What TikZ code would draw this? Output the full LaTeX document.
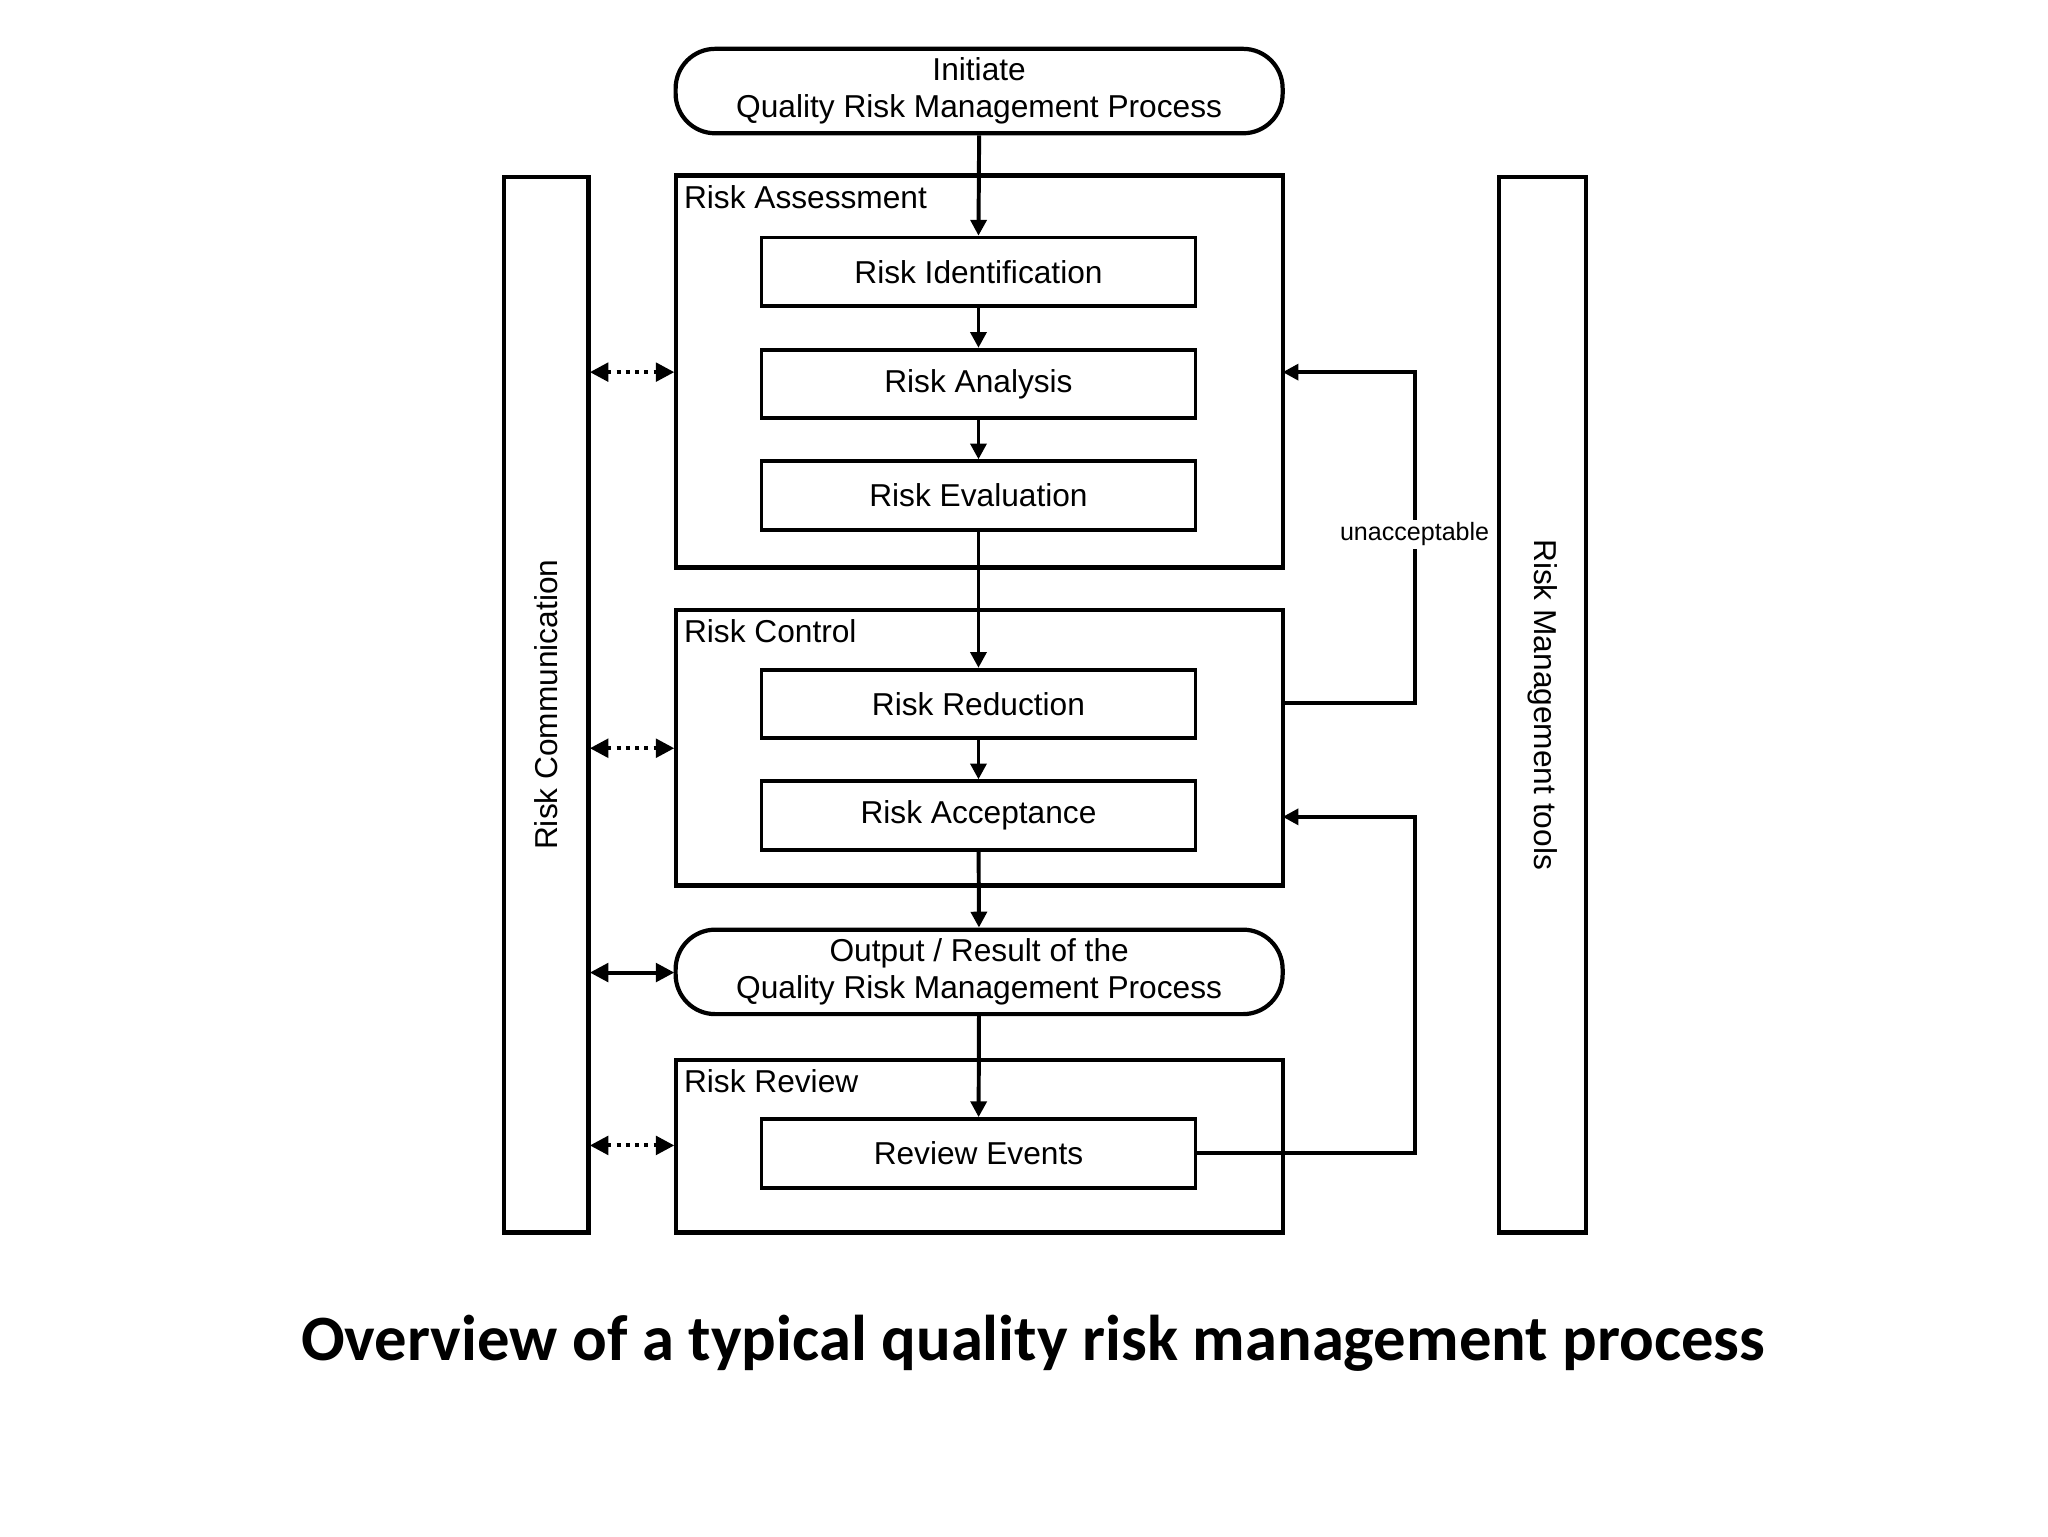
\documentclass[tikz,border=0pt]{standalone}
\usepackage{fontspec}
\setmainfont{Liberation Sans}
\newfontfamily\capfont{Carlito}
\usetikzlibrary{arrows.meta}
\begin{document}
\begin{tikzpicture}[x=0.5pt,y=-0.5pt,
  frame/.style={draw,line width=1.6pt},
  inner/.style={draw,line width=1.4pt,minimum width=164.5pt,minimum height=26pt,font=\fontsize{12}{14}\selectfont},
  term/.style={draw,line width=1.6pt,rounded corners=15pt,minimum width=230pt,minimum height=32pt,align=center,font=\fontsize{12}{14}\selectfont},
  flow/.style={line width=1.5pt,-{Triangle[length=6pt,width=6pt]}},
  dot/.style={line width=1.5pt,dotted,{Triangle[length=7pt,width=7pt]}-{Triangle[length=7pt,width=7pt]}},
  blab/.style={anchor=north west,font=\fontsize{12}{14}\selectfont,inner sep=2pt}]
\useasboundingbox (0,0) rectangle (1552,1164);
\node[term] (init) at (742,69) {Initiate\\Quality Risk Management Process};
\draw[frame] (512,133) rectangle (972,430);
\node[blab] at (514,136) {Risk Assessment};
\node[inner] (ri) at (741.5,206) {Risk Identification};
\node[inner] (ra) at (741.5,291) {Risk Analysis};
\node[inner] (re) at (741.5,375.5) {Risk Evaluation};
\draw[frame] (512,462) rectangle (972,671);
\node[blab] at (514,465) {Risk Control};
\node[inner] (rr) at (741.5,533.5) {Risk Reduction};
\node[inner] (rac) at (741.5,618) {Risk Acceptance};
\node[term] (out) at (742,736.5) {Output / Result of the\\Quality Risk Management Process};
\draw[frame] (512,803) rectangle (972,934);
\node[blab] at (514,806) {Risk Review};
\node[inner] (rev) at (741.5,874) {Review Events};
\draw[frame] (382,134) rectangle (446,934);
\node[rotate=90,font=\fontsize{12}{14}\selectfont] at (414,534) {Risk Communication};
\draw[frame] (1136,134) rectangle (1202,934);
\node[rotate=-90,font=\fontsize{12}{14}\selectfont] at (1169,534) {Risk Management tools};
\draw[flow] (init.south) -- (ri.north);
\draw[flow] (ri) -- (ra);
\draw[flow] (ra) -- (re);
\draw[flow] (re) -- (rr);
\draw[flow] (rr) -- (rac);
\draw[flow] (rac) -- (out);
\draw[flow] (out) -- (rev);
\coordinate (a1) at (972,533); \coordinate (a2) at (972,282);
\draw[flow] (a1) -- (1072,533) -- (1072,282) -- (a2);
\node[fill=white,inner sep=1pt,font=\fontsize{9.5}{11}\selectfont] at (1072,405) {unacceptable};
\coordinate (b2) at (972,619);
\draw[flow] (rev.east) -- (1072,874) -- (1072,619) -- (b2);
\foreach \y in {282,567,868} \draw[dot] (447,\y) -- (511,\y);
\draw[line width=1.5pt,{Triangle[length=7pt,width=7pt]}-{Triangle[length=7pt,width=7pt]}] (447,737) -- (511,737);
\node[font=\capfont\bfseries\fontsize{24.5}{28}\selectfont] at (783,1018) {Overview of a typical quality risk management process};
\end{tikzpicture}
\end{document}
